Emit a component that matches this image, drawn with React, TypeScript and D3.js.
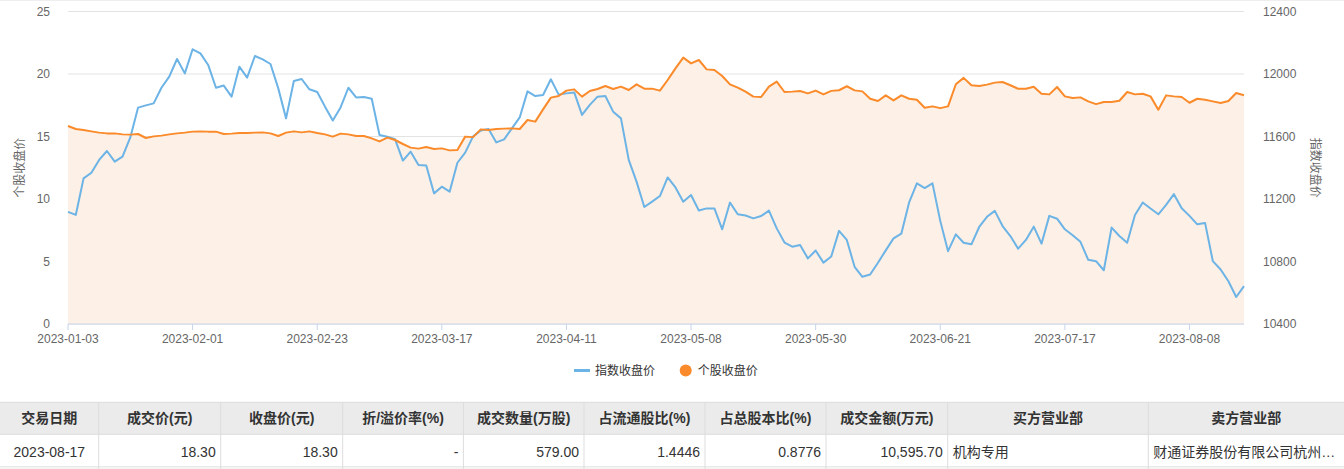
import React from 'react';
import * as d3 from 'd3';

// ---- categories: trading days 2023-01-03 .. 2023-08-17 ----
const JAN_DAYS = [3, 4, 5, 6, 9, 10, 11, 12, 13, 16, 17, 18, 19, 20, 30, 31];
const FEB_DAYS = [1, 2, 3, 6, 7, 8, 9, 10, 13, 14, 15, 16, 17, 20, 21, 22, 23, 24, 27, 28];
const MAR_DAYS = [1, 2, 3, 6, 7, 8, 9, 10, 13, 14, 15, 16, 17, 20, 21, 22, 23, 24, 27, 28, 29, 30, 31];
const APR_DAYS = [3, 4, 6, 7, 10, 11, 12, 13, 14, 17, 18, 19, 20, 21, 24, 25, 26, 27, 28];
const MAY_DAYS = [4, 5, 8, 9, 10, 11, 12, 15, 16, 17, 18, 19, 22, 23, 24, 25, 26, 29, 30, 31];
const JUN_DAYS = [1, 2, 5, 6, 7, 8, 9, 12, 13, 14, 15, 16, 19, 20, 21, 26, 27, 28, 29, 30];
const JUL_DAYS = [3, 4, 5, 6, 7, 10, 11, 12, 13, 14, 17, 18, 19, 20, 21, 24, 25, 26, 27, 28, 31];
const AUG_DAYS = [1, 2, 3, 4, 7, 8, 9, 10, 11, 14, 15, 16, 17];
const MONTH_LISTS = [JAN_DAYS, FEB_DAYS, MAR_DAYS, APR_DAYS, MAY_DAYS, JUN_DAYS, JUL_DAYS, AUG_DAYS];
const pad = (n: number) => (n < 10 ? '0' + n : '' + n);
const dates: string[] = MONTH_LISTS.flatMap((days, m) => days.map((d) => `2023-${pad(m + 1)}-${pad(d)}`));

// ---- series ----
const indexClose = [
  11118, 11098, 11332, 11368, 11450, 11507, 11439, 11471, 11594, 11785,
  11799, 11812, 11912, 11983, 12096, 12004, 12158, 12132, 12058, 11912,
  11926, 11855, 12047, 11977, 12115, 12094, 12064, 11908, 11716, 11955,
  11968, 11902, 11885, 11791, 11702, 11786, 11912, 11850, 11853, 11842,
  11610, 11599, 11582, 11446, 11503, 11418, 11414, 11236, 11279, 11247,
  11432, 11497, 11599, 11638, 11648, 11562, 11582, 11652, 11722, 11889,
  11859, 11866, 11966, 11868, 11876, 11882, 11738, 11802, 11855, 11859,
  11759, 11716, 11450, 11311, 11149, 11183, 11219, 11338, 11274, 11183,
  11226, 11126, 11140, 11140, 11006, 11177, 11102, 11094, 11076, 11091,
  11126, 11012, 10921, 10895, 10906, 10820, 10870, 10793, 10832, 10996,
  10938, 10766, 10702, 10717, 10792, 10871, 10948, 10978, 11178, 11300,
  11270, 11300, 11060, 10866, 10974, 10920, 10910, 11021, 11086, 11124,
  11027, 10963, 10882, 10938, 11023, 10914, 11092, 11074, 11006, 10968,
  10926, 10811, 10802, 10744, 11017, 10963, 10920, 11098, 11178, 11139,
  11102, 11162, 11231, 11141, 11092, 11038, 11047, 10802, 10749, 10674,
  10573, 10642,
];
const stockClose = [
  15.84, 15.6, 15.52, 15.41, 15.31, 15.25, 15.25, 15.17, 15.15, 15.2,
  14.88, 15.01, 15.07, 15.17, 15.25, 15.31, 15.39, 15.41, 15.39, 15.39,
  15.2, 15.23, 15.28, 15.28, 15.31, 15.33, 15.25, 15.04, 15.31, 15.41,
  15.33, 15.41, 15.28, 15.17, 14.99, 15.23, 15.17, 15.04, 15.04, 14.85,
  14.61, 14.91, 14.72, 14.4, 14.11, 14.03, 14.16, 14.0, 14.05, 13.89,
  13.92, 14.99, 14.95, 15.57, 15.52, 15.6, 15.63, 15.65, 15.6, 16.32,
  16.19, 17.17, 18.11, 18.24, 18.67, 18.77, 18.19, 18.64, 18.8, 19.04,
  18.8, 18.99, 18.72, 19.17, 18.83, 18.83, 18.67, 19.52, 20.45, 21.31,
  20.85, 21.12, 20.37, 20.32, 19.84, 19.17, 18.91, 18.59, 18.19, 18.16,
  18.99, 19.39, 18.56, 18.59, 18.64, 18.45, 18.67, 18.37, 18.65, 18.7,
  19.02, 18.69, 18.61, 18.02, 17.84, 18.29, 17.89, 18.29, 18.02, 17.94,
  17.3, 17.41, 17.27, 17.41, 19.18, 19.69, 19.1, 19.04, 19.15, 19.31,
  19.36, 19.1, 18.82, 18.82, 18.98, 18.42, 18.37, 18.96, 18.21, 18.08,
  18.13, 17.81, 17.59, 17.76, 17.76, 17.86, 18.56, 18.37, 18.42, 18.21,
  17.14, 18.29, 18.21, 18.16, 17.7, 18.02, 17.94, 17.81, 17.68, 17.84,
  18.48, 18.3,
];

const leftTicks = [0, 5, 10, 15, 20, 25];
const rightTicks = [10400, 10800, 11200, 11600, 12000, 12400];
const seriesNames = ['指数收盘价', '个股收盘价'];
const axisTitles = ['个股收盘价', '指数收盘价'];

// ---- table ----
const tableHeaders = ['交易日期', '成交价(元)', '收盘价(元)', '折/溢价率(%)', '成交数量(万股)', '占流通股比(%)', '占总股本比(%)', '成交金额(万元)', '买方营业部', '卖方营业部'];
const tableRow = ['2023-08-17', '18.30', '18.30', '-', '579.00', '1.4446', '0.8776', '10,595.70', '机构专用', '财通证券股份有限公司杭州…'];

const BLUE = '#6cb3e6';
const ORANGE = '#fa8a2a';
const FILL = '#fdf0e6';
const FONT = '"Liberation Sans", Arial, "Noto Sans CJK SC", sans-serif';

export default function App() {
  const W = 1344, H = 469;
  const left = 68, right = 1244, top = 11.5, bottom = 324;
  const x = d3.scalePoint<string>().domain(dates).range([left, right]);
  const yL = d3.scaleLinear().domain([0, 25]).range([bottom, top]);
  const yR = d3.scaleLinear().domain([10400, 12400]).range([bottom, top]);

  const blueLine = d3.line<number>().x((_, i) => x(dates[i])!).y((d) => yR(d));
  const orangeLine = d3.line<number>().x((_, i) => x(dates[i])!).y((d) => yL(d));
  const orangeArea = d3.area<number>().x((_, i) => x(dates[i])!).y0(bottom).y1((d) => yL(d));

  const xTickDates = dates.filter((_, i) => i % 16 === 0);
  const midY = (top + bottom) / 2;

  const colEdges = [0, 98.7, 220.7, 342.7, 463.4, 584, 705, 826, 947.7, 1148.3, 1344];
  const align = ['center', 'right', 'right', 'right', 'right', 'right', 'right', 'right', 'left', 'left'];
  const hTop = 402.3, hBot = 434.3, rBot = 466.7;

  return (
    <div style={{ position: 'absolute', left: 0, top: 0, width: W, height: H, background: '#fff' }}>
      <svg width={W} height={H} style={{ display: 'block', fontFamily: FONT }}>
        <rect x={0} y={0} width={W} height={1} fill="#eeeeee" />
        {/* grid */}
        {leftTicks.map((t) => (
          <line key={'g' + t} x1={left} x2={right} y1={yL(t)} y2={yL(t)} stroke="#e3e3e3" strokeWidth={1} />
        ))}
        {/* area */}
        <path d={orangeArea(stockClose)!} fill={FILL} />
        {/* x axis */}
        <line x1={left} x2={right} y1={bottom} y2={bottom} stroke="#c8d4ea" strokeWidth={1} />
        {xTickDates.map((d) => (
          <g key={d}>
            <line x1={x(d)} x2={x(d)} y1={bottom} y2={bottom + 6} stroke="#c8d4ea" />
            <text x={x(d)} y={339} textAnchor="middle" dominantBaseline="central" fontSize={12} fill="#666">{d}</text>
          </g>
        ))}
        {/* lines */}
        <path d={blueLine(indexClose)!} fill="none" stroke={BLUE} strokeWidth={2} strokeLinejoin="round" />
        <path d={orangeLine(stockClose)!} fill="none" stroke={ORANGE} strokeWidth={2} strokeLinejoin="round" />
        {/* left axis */}
        {leftTicks.map((t) => (
          <text key={'l' + t} x={50} y={yL(t)} textAnchor="end" dominantBaseline="central" fontSize={12} fill="#666">{t}</text>
        ))}
        {rightTicks.map((t) => (
          <text key={'r' + t} x={1263} y={yR(t)} textAnchor="start" dominantBaseline="central" fontSize={12} fill="#666">{t}</text>
        ))}
        <text transform={`translate(20,${midY}) rotate(-90)`} textAnchor="middle" dominantBaseline="central" fontSize={12} fill="#666">{axisTitles[0]}</text>
        <text transform={`translate(1315,${midY}) rotate(90)`} textAnchor="middle" dominantBaseline="central" fontSize={12} fill="#666">{axisTitles[1]}</text>
        {/* legend */}
        <line x1={574} x2={590} y1={370.5} y2={370.5} stroke={BLUE} strokeWidth={3} />
        <text x={595} y={370.5} dominantBaseline="central" fontSize={12} fill="#333">{seriesNames[0]}</text>
        <circle cx={685.7} cy={370.5} r={6} fill={ORANGE} />
        <text x={697.7} y={370.5} dominantBaseline="central" fontSize={12} fill="#333">{seriesNames[1]}</text>
        {/* table */}
        <rect x={0} y={hTop} width={W} height={hBot - hTop} fill="#ebebeb" />
        <rect x={0} y={rBot} width={W} height={H - rBot} fill="#f5f5f5" />
        <line x1={0} x2={W} y1={hTop} y2={hTop} stroke="#dddddd" />
        <line x1={0} x2={W} y1={hBot} y2={hBot} stroke="#dddddd" />
        <line x1={0} x2={W} y1={rBot} y2={rBot} stroke="#e6e6e6" />
        {colEdges.slice(1, -1).map((cx) => (
          <line key={'c' + cx} x1={cx} x2={cx} y1={hTop} y2={H} stroke="#dddddd" />
        ))}
        {tableHeaders.map((h, i) => (
          <text key={'h' + i} x={(colEdges[i] + colEdges[i + 1]) / 2} y={418.3} textAnchor="middle" dominantBaseline="central" fontSize={14} fontWeight="bold" fill="#333">{h}</text>
        ))}
        {tableRow.map((v, i) => {
          const a = align[i];
          const tx = a === 'center' ? (colEdges[i] + colEdges[i + 1]) / 2 : a === 'right' ? colEdges[i + 1] - 5 : colEdges[i] + 5;
          const anchor = a === 'center' ? 'middle' : a === 'right' ? 'end' : 'start';
          return (
            <text key={'v' + i} x={tx} y={451.7} textAnchor={anchor} dominantBaseline="central" fontSize={14} fill="#333">{v}</text>
          );
        })}
      </svg>
    </div>
  );
}
